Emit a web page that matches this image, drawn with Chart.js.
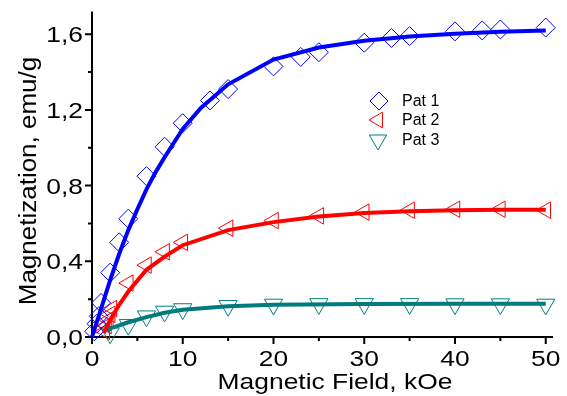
<!DOCTYPE html>
<html>
<head>
<meta charset="utf-8">
<script src="https://cdn.jsdelivr.net/npm/chart.js@4/dist/chart.umd.min.js"></script>
<style>
  html, body { margin: 0; padding: 0; background: #fff; }
  #wrap { width: 567px; height: 396px; }
</style>
</head>
<body>
<div id="wrap"><canvas id="chart" width="567" height="396"></canvas></div>
<script>
// measured points (markers)
const fieldPat1 = [0.25, 0.5, 0.75, 1, 2, 3, 4, 6, 8, 10, 13, 15, 20, 23, 25, 30, 33, 35, 40, 43, 45, 50];
const magPat1   = [0.03, 0.07, 0.11, 0.18, 0.34, 0.50, 0.625, 0.85, 1.005, 1.13, 1.25, 1.31, 1.43, 1.48, 1.505, 1.555, 1.58, 1.59, 1.615, 1.62, 1.625, 1.635];

const fieldPat2 = [1.4, 1.6, 1.8, 2, 2.2, 4, 6, 8, 10, 15, 20, 25, 30, 35, 40, 45, 50];
const magPat2   = [0.03, 0.06, 0.09, 0.12, 0.15, 0.285, 0.38, 0.45, 0.50, 0.575, 0.615, 0.64, 0.66, 0.67, 0.675, 0.675, 0.67];

const fieldPat3 = [2, 4, 6, 8, 10, 15, 20, 25, 30, 35, 40, 45, 50];
const magPat3   = [0.02, 0.065, 0.11, 0.135, 0.148, 0.165, 0.172, 0.175, 0.175, 0.175, 0.174, 0.174, 0.172];

// fitted curves
const fitField1 = [0, 1, 2, 3, 4, 5, 6, 7, 8, 10, 12, 15, 20, 25, 30, 35, 40, 45, 50];
const fitMag1   = [0, 0.15, 0.30, 0.44, 0.565, 0.675, 0.78, 0.87, 0.95, 1.10, 1.21, 1.335, 1.466, 1.53, 1.565, 1.588, 1.603, 1.613, 1.62];

const fitField2 = [1.3, 2, 3, 4, 6, 8, 10, 15, 20, 25, 30, 35, 40, 45, 50];
const fitMag2   = [0.02, 0.09, 0.17, 0.24, 0.355, 0.425, 0.485, 0.565, 0.607, 0.637, 0.655, 0.665, 0.670, 0.672, 0.673];

const fitField3 = [1.7, 2, 3, 4, 6, 8, 10, 15, 20, 30, 40, 50];
const fitMag3   = [0.03, 0.045, 0.062, 0.078, 0.105, 0.128, 0.144, 0.163, 0.171, 0.175, 0.176, 0.176];

// axes
const xMajor = [0, 10, 20, 30, 40, 50];
const xMinor = [5, 15, 25, 35, 45];
const yMajor = [0, 0.4, 0.8, 1.2, 1.6];
const yMinor = [0.2, 0.6, 1.0, 1.4];
const yLabels = ["0,0", "0,4", "0,8", "1,2", "1,6"];
const seriesNames = ["Pat 1", "Pat 2", "Pat 3"];

const BLUE = "#0000ff", RED = "#ff0000", TEAL = "#008080";
const FONT = "'Liberation Sans', Arial, sans-serif";

const pts = (xs, ys) => xs.map((x, i) => ({ x, y: ys[i] }));

// stretched text, the original fonts are wider than Arial
function wideText(ctx, text, x, y, size, sx, align, rot) {
  ctx.save();
  ctx.translate(x, y);
  if (rot) ctx.rotate(rot);
  ctx.scale(sx, 1);
  ctx.font = `${size}px ${FONT}`;
  ctx.fillStyle = "#000";
  ctx.textAlign = align;
  ctx.textBaseline = "alphabetic";
  ctx.fillText(text, 0, 0);
  ctx.restore();
}

function marker(ctx, kind, x, y, r, color) {
  ctx.save();
  ctx.strokeStyle = color;
  ctx.lineWidth = 1;
  ctx.beginPath();
  if (kind === "diamond") {
    ctx.moveTo(x, y - r); ctx.lineTo(x + r, y); ctx.lineTo(x, y + r); ctx.lineTo(x - r, y);
  } else {
    const rot = kind === "left" ? -Math.PI / 2 : Math.PI;
    for (let k = 0; k < 3; k++) {
      const a = rot + k * 2 * Math.PI / 3;
      const px = x + Math.sin(a) * r, py = y - Math.cos(a) * r;
      k ? ctx.lineTo(px, py) : ctx.moveTo(px, py);
    }
  }
  ctx.closePath();
  ctx.stroke();
  ctx.restore();
}

const originAxes = {
  id: "originAxes",
  beforeDatasetsDraw(chart) {
    const { ctx, chartArea: a, scales: { x, y } } = chart;
    ctx.save();
    ctx.strokeStyle = "#000";
    ctx.lineWidth = 2;
    ctx.beginPath();
    ctx.moveTo(a.left, a.top);
    ctx.lineTo(a.left, a.bottom);
    ctx.lineTo(a.right, a.bottom);
    yMajor.forEach(v => { const p = y.getPixelForValue(v); ctx.moveTo(a.left - 7, p); ctx.lineTo(a.left, p); });
    yMinor.forEach(v => { const p = y.getPixelForValue(v); ctx.moveTo(a.left - 4, p); ctx.lineTo(a.left, p); });
    xMajor.forEach(v => { const p = x.getPixelForValue(v); ctx.moveTo(p, a.bottom); ctx.lineTo(p, a.bottom + 7); });
    xMinor.forEach(v => { const p = x.getPixelForValue(v); ctx.moveTo(p, a.bottom); ctx.lineTo(p, a.bottom + 4); });
    ctx.stroke();
    ctx.restore();

    yMajor.forEach((v, i) => wideText(ctx, yLabels[i], 83, y.getPixelForValue(v) + 8, 22, 1.2, "right"));
    xMajor.forEach(v => wideText(ctx, String(v), x.getPixelForValue(v), 366, 22, 1.2, "center"));
    wideText(ctx, "Magnetic Field, kOe", 335, 389, 22, 1.2, "center");
    wideText(ctx, "Magnetization, emu/g", 36, 181, 23, 1.13, "center", -Math.PI / 2);
  },
  afterDraw(chart) {
    const ctx = chart.ctx;
    const rows = [
      { kind: "diamond", color: BLUE, r: 9,  mx: 379, y: 101 },
      { kind: "left",    color: RED,  r: 9,  mx: 378, y: 120 },
      { kind: "down",    color: TEAL, r: 10, mx: 378, y: 140 }
    ];
    rows.forEach((row, i) => {
      marker(ctx, row.kind, row.mx, row.y, row.r, row.color);
      ctx.save();
      ctx.font = `16px ${FONT}`;
      ctx.fillStyle = "#000";
      ctx.textBaseline = "middle";
      ctx.fillText(seriesNames[i], 402, row.y + 1);
      ctx.restore();
    });
  }
};

const fitLine = (data, color) => ({
  data, showLine: true, borderColor: color, borderWidth: 4,
  pointRadius: 0, tension: 0, clip: false, order: 0
});
const markerSet = (data, color, style, rotation, radius) => ({
  data, showLine: false, borderColor: color, backgroundColor: "transparent",
  pointStyle: style, rotation, pointRadius: radius, pointBorderWidth: 1,
  pointBorderColor: color, pointBackgroundColor: "transparent", clip: false, order: 1
});

new Chart(document.getElementById("chart"), {
  type: "scatter",
  data: {
    datasets: [
      fitLine(pts(fitField1, fitMag1), BLUE),
      fitLine(pts(fitField2, fitMag2), RED),
      fitLine(pts(fitField3, fitMag3), "#007a7a"),
      markerSet(pts(fieldPat1, magPat1), BLUE, "rectRot", 0, 9.5),
      markerSet(pts(fieldPat2, magPat2), RED, "triangle", -90, 9.5),
      markerSet(pts(fieldPat3, magPat3), TEAL, "triangle", 180, 10.5)
    ]
  },
  options: {
    responsive: false,
    devicePixelRatio: 1,
    animation: false,
    layout: { padding: { left: 92, right: 14, top: 7, bottom: 59 } },
    plugins: { legend: { display: false }, tooltip: { enabled: false } },
    scales: {
      x: { type: "linear", min: 0, max: 50.8, display: false },
      y: { type: "linear", min: 0, max: 1.72, display: false }
    }
  },
  plugins: [originAxes]
});
</script>
</body>
</html>
